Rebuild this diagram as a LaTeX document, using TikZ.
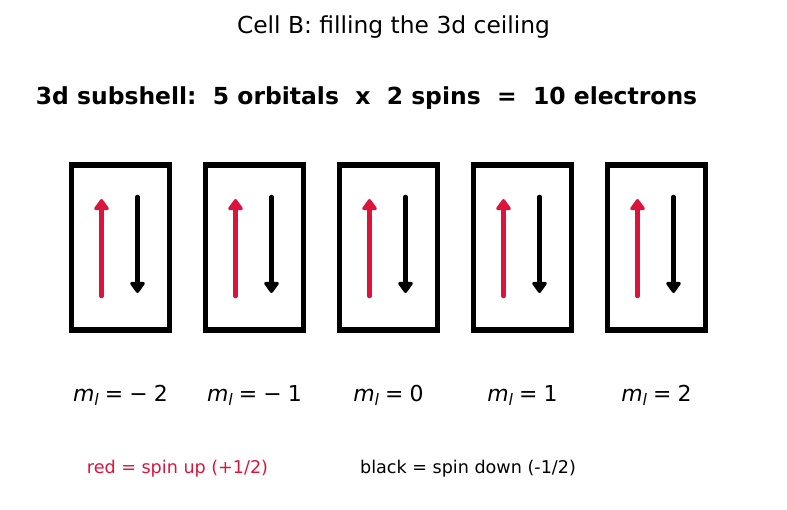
\documentclass[tikz,border=0pt]{standalone}
\usepackage{fontspec}
\setmainfont{DejaVu Sans}
\usetikzlibrary{arrows.meta}
\definecolor{spinred}{HTML}{DC143C}
\newcommand{\mlab}[1]{{\itshape m}\raisebox{-0.35ex}{\fontsize{9}{9}\selectfont\itshape l}\;=\;#1}

\begin{document}
\begin{tikzpicture}[
    x=0.02cm, y=-0.02cm,
    orb/.style   ={draw, line width=2.9pt, minimum width=1.97cm, minimum height=3.3cm, inner sep=0pt},
    spinup/.style={spinred, line width=2.6pt, line cap=round, -{Triangle[length=7pt, width=9.5pt, round]}},
    spindn/.style={black, line width=2.6pt, line cap=round, -{Triangle[length=7pt, width=9.5pt, round]}},
    lab/.style   ={font=\fontsize{12.5}{15}\selectfont, anchor=base},
    leg/.style   ={font=\fontsize{10}{12}\selectfont},
  ]
  \useasboundingbox (0,0) rectangle (787,510);

  % --- headings ---
  \node[font=\fontsize{13.3}{15}\selectfont] (title) at (393.5,27) {Cell B: filling the 3d ceiling};
  \node[font=\fontsize{13.35}{16}\selectfont\bfseries] (sub) at (366.5,98)
    {3d subshell:\ \ 5 orbitals\ \ x\ \ 2 spins\ \ =\ \ 10 electrons};

  % --- orbitals ---
  \foreach \i/\x/\m in {1/120.5/−\;2, 2/254.5/−\;1, 3/388.5/0, 4/522.5/1, 5/656.5/2} {
    \node[orb] (orb\i) at (\x,247.5) {};
    \coordinate (up\i a) at (\x-19,296);
    \coordinate (up\i b) at (\x-19,199);
    \coordinate (dn\i a) at (\x+17,197);
    \coordinate (dn\i b) at (\x+17,293);
    \draw[spinup] (up\i a) -- (up\i b);
    \draw[spindn] (dn\i a) -- (dn\i b);
    \node[lab] (m\i) at (\x,401) {\mlab{\m}};
  }

  % --- legend ---
  \node[leg, text=spinred] (legup) at (177.5,469) {red = spin up (+1/2)};
  \node[leg] (legdn) at (468,469) {black = spin down (-1/2)};
\end{tikzpicture}
\end{document}
